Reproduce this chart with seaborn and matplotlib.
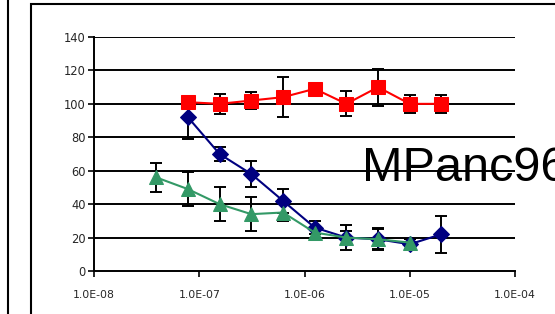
import numpy as np
import pandas as pd
import matplotlib
matplotlib.use("Agg")
import matplotlib.pyplot as plt
import seaborn as sns
from matplotlib.lines import Line2D
from matplotlib.patches import Rectangle

# concentrations (M), two-fold dilutions
conc_red = [7.8e-8, 1.56e-7, 3.125e-7, 6.25e-7, 1.25e-6, 2.5e-6, 5e-6, 1e-5, 2e-5]
red_vals = [101, 100, 102, 104, 109, 100, 110, 100, 100]
red_err = [3, 6, 5, 12, 1, 7.5, 11, 5.5, 5.5]

conc_blue = [7.8e-8, 1.56e-7, 3.125e-7, 6.25e-7, 1.25e-6, 2.5e-6, 5e-6, 1e-5, 2e-5]
blue_vals = [92, 70, 58, 42, 26, 20, 19, 16, 22]
blue_err = [13, 4, 8, 7, 4, 4, 6, 3, 11]

conc_green = [3.9e-8, 7.8e-8, 1.56e-7, 3.125e-7, 6.25e-7, 1.25e-6, 2.5e-6, 5e-6, 1e-5]
green_vals = [56, 49, 40, 34, 35, 23, 20, 19, 17]
green_err = [8.5, 10, 10, 10, 5, 3, 7.5, 6.5, 2]

series = {
    "red": (conc_red, red_vals, red_err),
    "blue": (conc_blue, blue_vals, blue_err),
    "green": (conc_green, green_vals, green_err),
}
colors = {"red": "#FF0000", "blue": "#000080", "green": "#339966"}
markers = {"red": "s", "blue": "D", "green": "^"}
msize = {"red": 9.5, "blue": 8.5, "green": 10}

rows = []
for name, (c, v, e) in series.items():
    for ci, vi, ei in zip(c, v, e):
        rows.append({"conc": ci, "value": vi, "err": ei, "series": name})
df = pd.DataFrame(rows)

sns.set_style("white")
plt.rcParams["font.family"] = ["DejaVu Sans"]

fig = plt.figure(figsize=(5.55, 3.14), dpi=100)
ax = fig.add_axes([94 / 555, 1 - 271 / 314, (515 - 94) / 555, (271 - 37) / 314])

for name in ["blue", "green", "red"]:
    sub = df[df["series"] == name]
    ax.errorbar(sub["conc"], sub["value"], yerr=sub["err"], fmt="none",
                ecolor="black", elinewidth=1.4, capsize=4.5, capthick=1.4, zorder=2)
    sns.lineplot(data=sub, x="conc", y="value", ax=ax, color=colors[name],
                 marker=markers[name], markersize=msize[name],
                 markeredgecolor=colors[name], linewidth=1.5, zorder=3)

ax.set_xscale("log")
ax.set_xlim(1e-8, 1e-4)
ax.set_ylim(0, 140)
ax.set_xticks([1e-8, 1e-7, 1e-6, 1e-5, 1e-4])
ax.set_xticklabels(["1.0E-08", "1.0E-07", "1.0E-06", "1.0E-05", "1.0E-04"])
ax.xaxis.set_minor_locator(matplotlib.ticker.NullLocator())
ax.set_yticks(range(0, 141, 20))
ax.tick_params(axis="x", labelsize=7.8, length=4, width=1.4, direction="out", pad=10)
ax.tick_params(axis="y", labelsize=8.3, length=4, width=1.4, direction="out", pad=2)
ax.tick_params(bottom=True, left=True)
for y in range(20, 141, 20):
    ax.axhline(y, color="black", linewidth=1.4, zorder=1)
for s in ["top", "right"]:
    ax.spines[s].set_visible(False)
for s in ["left", "bottom"]:
    ax.spines[s].set_color("black")
    ax.spines[s].set_linewidth(1.4)
ax.set_xlabel("")
ax.set_ylabel("")
ax.set_facecolor("none")

fig.text(362 / 555, 1 - 181 / 314, "MPanc96", fontsize=35, color="black",
         family=["Liberation Sans", "DejaVu Sans"], zorder=-1)

# outer panel frames
fig.patches.append(Rectangle((31 / 555, -0.1), 1.0, 1 - 4 / 314 + 0.1,
                             transform=fig.transFigure, fill=False,
                             edgecolor="black", linewidth=1.5, zorder=-2))
fig.add_artist(Line2D([8 / 555, 8 / 555], [0, 1], transform=fig.transFigure,
                      color="black", linewidth=1.5))

fig.savefig("out.png", dpi=100)
